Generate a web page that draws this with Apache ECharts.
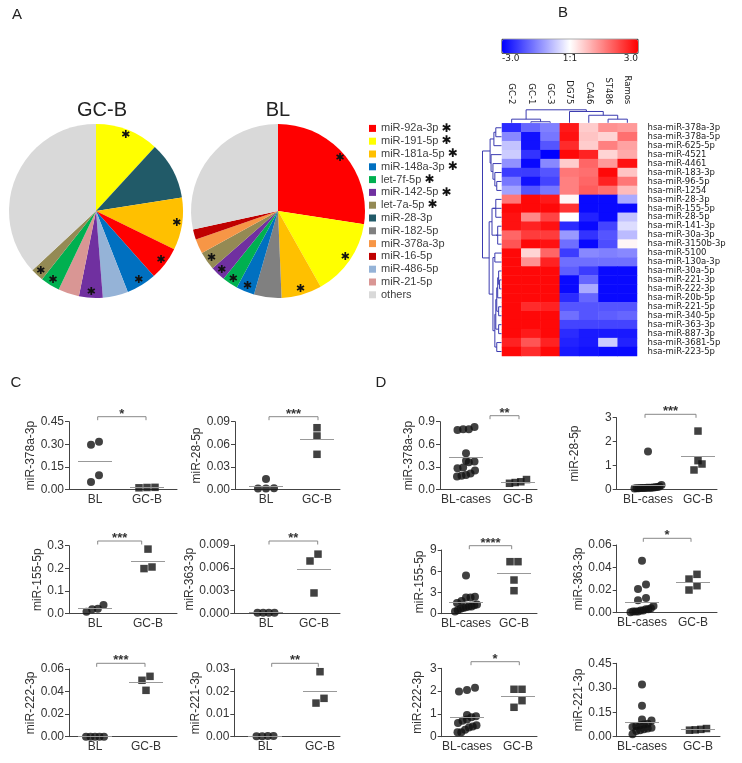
<!DOCTYPE html>
<html><head><meta charset="utf-8">
<script src="https://cdn.jsdelivr.net/npm/echarts@6/dist/echarts.min.js"></script>
<style>html,body{margin:0;padding:0;background:#fff}#c{width:742px;height:763px}</style>
</head><body><div id="c"></div>
<script>
// ---------------- Panel A: pie data ----------------
const gcbNames  = ['miR-191-5p','miR-28-3p','miR-181a-5p','miR-92a-3p','miR-148a-3p','miR-486-5p','miR-142-5p','miR-21-5p','let-7f-5p','let-7a-5p','others'];
const gcbValues = [11.8,10.7,9.7,6.2,5.6,4.7,4.4,3.9,3.6,2.4,36.9];
const blNames   = ['miR-92a-3p','miR-191-5p','miR-181a-5p','miR-182-5p','miR-148a-3p','let-7f-5p','miR-142-5p','let-7a-5p','miR-378a-3p','miR-16-5p','others'];
const blValues  = [27.4,14.4,7.5,5.1,3.4,2.9,2.8,3.4,2.7,1.9,28.4];
const legendNames = ['miR-92a-3p','miR-191-5p','miR-181a-5p','miR-148a-3p','let-7f-5p','miR-142-5p','let-7a-5p','miR-28-3p','miR-182-5p','miR-378a-3p','miR-16-5p','miR-486-5p','miR-21-5p','others'];
const starredNames = ['miR-92a-3p','miR-191-5p','miR-181a-5p','miR-148a-3p','let-7f-5p','miR-142-5p','let-7a-5p'];
const sliceColors = {
  'miR-92a-3p':'#ff0000','miR-191-5p':'#ffff00','miR-181a-5p':'#ffc000','miR-148a-3p':'#0070c0',
  'let-7f-5p':'#00b050','miR-142-5p':'#7030a0','let-7a-5p':'#948a54','miR-28-3p':'#215a68',
  'miR-182-5p':'#808080','miR-378a-3p':'#f79646','miR-16-5p':'#c00000','miR-486-5p':'#95b3d7',
  'miR-21-5p':'#d99694','others':'#d9d9d9'
};

// ---------------- Panel B: heatmap data ----------------
const colNames = ['GC-2','GC-1','GC-3','DG75','CA46','ST486','Ramos'];
const rowNames = ['hsa-miR-378a-3p','hsa-miR-378a-5p','hsa-miR-625-5p','hsa-miR-4521','hsa-miR-4461','hsa-miR-183-3p','hsa-miR-96-5p','hsa-miR-1254','hsa-miR-28-3p','hsa-miR-155-5p','hsa-miR-28-5p','hsa-miR-141-3p','hsa-miR-30a-3p','hsa-miR-3150b-3p','hsa-miR-5100','hsa-miR-130a-3p','hsa-miR-30a-5p','hsa-miR-221-3p','hsa-miR-222-3p','hsa-miR-20b-5p','hsa-miR-221-5p','hsa-miR-340-5p','hsa-miR-363-3p','hsa-miR-887-3p','hsa-miR-3681-5p','hsa-miR-223-5p'];
const hmValues = [
  [-2.5,-1.8,-1.5, 2.7, 0.6, 1.3, 1.2],
  [-1.4,-2.8,-1.6, 2.8, 0.7, 0.5, 1.7],
  [-0.7,-2.8,-2.0, 2.5, 0.6, 1.5, 1.1],
  [-0.6,-2.4,-3.0, 2.9, 2.6, 0.5, 1.0],
  [-1.3,-2.9,-1.4, 0.6, 1.8, 1.2, 2.8],
  [-2.3,-2.3,-2.0, 1.6, 1.7, 2.9, 0.7],
  [-1.6,-2.8,-2.2, 1.5, 1.8, 2.6, 1.6],
  [-1.1,-2.0,-1.6, 1.5, 1.9, 1.7, 0.8],
  [ 1.6, 2.9, 2.7, 0.1,-2.9,-2.9,-1.0],
  [ 2.9, 2.9, 2.9, 2.4,-2.9,-2.9,-2.9],
  [ 2.8, 1.4, 2.2, 0.0,-2.6,-2.9,-0.7],
  [ 2.8, 2.6, 2.8,-2.5,-2.9,-2.2,-0.4],
  [ 1.8, 2.3, 2.3,-1.2,-2.4,-2.0,-0.8],
  [ 2.0, 2.9, 2.8,-1.7,-2.9,-2.1, 0.1],
  [ 2.9, 0.5, 1.8,-2.3,-1.4,-1.5,-1.4],
  [ 2.9, 1.3, 2.6,-1.7,-1.7,-1.7,-1.7],
  [ 2.9, 2.9, 2.9,-1.9,-2.3,-2.9,-2.9],
  [ 2.9, 2.9, 2.9,-2.9,-1.8,-2.9,-2.9],
  [ 2.9, 2.9, 2.9,-2.9,-1.0,-2.9,-2.9],
  [ 2.9, 2.9, 2.9,-2.5,-1.8,-2.9,-2.9],
  [ 2.9, 2.5, 2.6,-2.0,-2.0,-2.0,-2.0],
  [ 2.9, 2.9, 2.9,-1.7,-2.0,-1.9,-1.8],
  [ 2.9, 2.9, 2.9,-2.2,-2.2,-2.2,-2.2],
  [ 2.9, 2.7, 2.9,-2.5,-2.7,-2.7,-2.7],
  [ 2.6, 2.0, 2.6,-2.6,-2.7,-0.6,-2.6],
  [ 2.9, 2.5, 2.9,-2.7,-2.8,-2.9,-2.9]
];
const colorbarLabels = ['-3.0','1:1','3.0'];
// dendrogram linkages: [childA, childB, relative height]; ids >= n are earlier merges
const colLinkage = [[1,2,0.08],[0,7,0.28],[5,6,0.28],[4,9,0.58],[3,10,0.87],[8,11,1.0]];
const rowLinkage = [
  [0,1,0.3],[26,2,0.4],[6,7,0.25],[5,28,0.35],[4,29,0.45],[3,30,0.55],[27,31,0.6],
  [8,10,0.3],[9,33,0.45],[11,13,0.2],[12,35,0.3],[34,36,0.5],[14,15,0.35],[17,18,0.1],
  [16,39,0.15],[19,40,0.2],[20,21,0.15],[41,42,0.25],[22,23,0.15],[43,44,0.3],[24,25,0.25],
  [45,46,0.35],[38,47,0.45],[37,48,0.65],[32,49,1.0]
];

// ---------------- Panels C / D: scatter data ----------------
const catsC = ['BL','GC-B'];
const catsD = ['BL-cases','GC-B'];
const c378a_BL = [0.317,0.297,0.049,0.093];          const c378a_GCB = [0.012,0.010,0.013];
const c28_BL   = [0.0137,0.0012,0.0010,0.0015];      const c28_GCB   = [0.082,0.071,0.0466];
const c155_BL  = [0.022,0.009,0.038,0.020];          const c155_GCB  = [0.285,0.199,0.206];
const c363_BL  = [0.0001,0.0001,0.0001,0.0001];      const c363_GCB  = [0.0078,0.0069,0.0027];
const c222_BL  = [0,0,0,0,0];                        const c222_GCB  = [0.0535,0.050,0.0411];
const c221_BL  = [0.0003,0.0002,0.0003,0.0002];      const c221_GCB  = [0.0288,0.0149,0.0170];
const d378a_BL = [0.80,0.79,0.80,0.83,0.48,0.38,0.36,0.37,0.29,0.28,0.25,0.21,0.19,0.17,0.18]; const d378a_GCB = [0.08,0.09,0.13,0.10];
const d28_BL   = [1.58,0.05,0.06,0.04,0.08,0.10,0.18,0.12,0.07,0.05,0.03,0.06,0.04,0.09,0.05]; const d28_GCB = [2.44,1.20,1.06,0.81];
const d155_BL  = [5.4,2.4,2.3,2.3,1.8,1.5,1.3,1.2,1.0,1.0,0.9,0.8,0.7,0.5,0.3];                const d155_GCB = [7.35,7.35,4.76,3.25];
const d363_BL  = [0.046,0.025,0.021,0.013,0.011,0.006,0.004,0.003,0.002,0.001,0.001,0.0005,0.001,0.002,0.003]; const d363_GCB = [0.034,0.0298,0.0239,0.0201];
const d222_BL  = [2.15,2.05,1.98,0.95,0.90,0.85,0.75,0.70,0.60,0.50,0.45,0.40,0.30,0.20,0.20];  const d222_GCB = [2.08,2.08,1.58,1.29];
const d221_BL  = [0.32,0.19,0.105,0.10,0.08,0.075,0.07,0.065,0.06,0.055,0.05,0.045,0.04,0.035,0.015]; const d221_GCB = [0.045,0.040,0.050,0.042];
const ticksC1 = ['0.00','0.15','0.30','0.45'];
const ticksC2 = ['0.00','0.03','0.06','0.09'];
const ticksC3 = ['0.0','0.1','0.2','0.3'];
const ticksC4 = ['0.000','0.003','0.006','0.009'];
const ticksC5 = ['0.00','0.02','0.04','0.06'];
const ticksC6 = ['0.00','0.01','0.02','0.03'];
const ticksD1 = ['0.0','0.3','0.6','0.9'];
const ticksD2 = ['0','1','2','3'];
const ticksD3 = ['0','3','6','9'];
const ticksD4 = ['0.00','0.02','0.04','0.06'];
const ticksD5 = ['0','1','2','3'];
const ticksD6 = ['0.00','0.15','0.30','0.45'];

const plots = [
  {name:'miR-378a-3p', cats:catsC, a:c378a_BL, b:c378a_GCB, ticks:ticksC1, sig:'*'},
  {name:'miR-28-5p',   cats:catsC, a:c28_BL,   b:c28_GCB,   ticks:ticksC2, sig:'***'},
  {name:'miR-155-5p',  cats:catsC, a:c155_BL,  b:c155_GCB,  ticks:ticksC3, sig:'***'},
  {name:'miR-363-3p',  cats:catsC, a:c363_BL,  b:c363_GCB,  ticks:ticksC4, sig:'**'},
  {name:'miR-222-3p',  cats:catsC, a:c222_BL,  b:c222_GCB,  ticks:ticksC5, sig:'***'},
  {name:'miR-221-3p',  cats:catsC, a:c221_BL,  b:c221_GCB,  ticks:ticksC6, sig:'**'},
  {name:'miR-378a-3p', cats:catsD, a:d378a_BL, b:d378a_GCB, ticks:ticksD1, sig:'**'},
  {name:'miR-28-5p',   cats:catsD, a:d28_BL,   b:d28_GCB,   ticks:ticksD2, sig:'***'},
  {name:'miR-155-5p',  cats:catsD, a:d155_BL,  b:d155_GCB,  ticks:ticksD3, sig:'****'},
  {name:'miR-363-3p',  cats:catsD, a:d363_BL,  b:d363_GCB,  ticks:ticksD4, sig:'*'},
  {name:'miR-222-3p',  cats:catsD, a:d222_BL,  b:d222_GCB,  ticks:ticksD5, sig:'*'},
  {name:'miR-221-3p',  cats:catsD, a:d221_BL,  b:d221_GCB,  ticks:ticksD6, sig:''}
];

// ---------------- layout (pixels) ----------------
const layouts = [
  {left:69,   right:177, top:421.7, bottom:489.3, c1:95,  c2:147, gap:18, br:[97.7,146],  brY:416.7},
  {left:235,  right:340, top:421.7, bottom:489.3, c1:266, c2:317, gap:26, br:[269,318],   brY:416.7},
  {left:69,   right:177, top:545.7, bottom:613.7, c1:95,  c2:148, gap:20, br:[97.7,141.7],brY:541},
  {left:234.3,right:340, top:545,   bottom:613.5, c1:266, c2:314, gap:24, br:[269,317.7], brY:541},
  {left:69,   right:177, top:669,   bottom:736.7, c1:95,  c2:146, gap:20, br:[96.7,145],  brY:663.3},
  {left:234.3,right:340, top:669,   bottom:736.7, c1:265, c2:320, gap:23, br:[271.7,318.3],brY:663.3},
  {left:440,  right:537, top:421.7, bottom:489.3, c1:466, c2:518, gap:20, br:[490,519],   brY:415.7},
  {left:616.7,right:717, top:417.7, bottom:489.3, c1:648, c2:698, gap:36, br:[645,696],   brY:414.3},
  {left:441.7,right:537, top:550,   bottom:613.7, c1:466, c2:514, gap:16, br:[469.3,511.7],brY:545.7},
  {left:616.7,right:717, top:545,   bottom:612.7, c1:642, c2:693, gap:26, br:[643.3,691], brY:538.3},
  {left:441.7,right:537, top:668.3, bottom:736.7, c1:467, c2:518, gap:18, br:[471,519.3], brY:661.7},
  {left:616.7,right:720, top:663.3, bottom:736.7, c1:642, c2:698, gap:30, br:null, brY:0}
];

const FONT = 'Liberation Sans, Arial, sans-serif';
const HMFONT = 'DejaVu Sans, sans-serif';
const MARK = 8;

// beeswarm-like horizontal spreading (pixel units on x)
function swarm(values, ymax, hPx, center) {
  const pxPerY = hPx / ymax;
  const order = values.map((v, i) => i).sort((p, q) => values[p] - values[q]);
  const rows = []; let cur = []; let start = 0;
  order.forEach(i => {
    if (cur.length && (values[i] - start) * pxPerY >= MARK * 0.9) { rows.push(cur); cur = []; }
    if (!cur.length) start = values[i];
    cur.push(i);
  });
  if (cur.length) rows.push(cur);
  const xs = [];
  rows.forEach(r => {
    const n = r.length;
    const span = n <= 3 ? (n - 1) * MARK : Math.min(28, 17 + (n - 4));
    const step = n > 1 ? span / (n - 1) : 0;
    r.forEach((i, k) => { xs[i] = center + (k - (n - 1) / 2) * step; });
  });
  return values.map((v, i) => [xs[i], v]);
}
const mean = arr => arr.reduce((s, v) => s + v, 0) / arr.length;

const grids = [], xAxes = [], yAxes = [], series = [];

// ---------- Panel A pies ----------
const starSet = new Set(starredNames);
function pieData(names, values, transparent) {
  return names.map((n, i) => ({name: n, value: values[i],
    itemStyle: {color: transparent ? 'rgba(0,0,0,0)' : sliceColors[n]}}));
}
[[gcbNames, gcbValues, [96, 211]], [blNames, blValues, [278, 211]]].forEach(([names, values, c]) => {
  series.push({type: 'pie', center: c, radius: 87, data: pieData(names, values, false),
    label: {show: false}, labelLine: {show: false}, silent: true, emphasis: {disabled: true},
    itemStyle: {borderWidth: 0}});
  series.push({type: 'pie', center: c, radius: [70, 87], data: pieData(names, values, true),
    label: {show: true, position: 'inside', formatter: p => starSet.has(p.name) ? '✱' : '',
      fontSize: 11, color: '#111', fontFamily: 'DejaVu Sans'},
    labelLine: {show: false}, silent: true, emphasis: {disabled: true}, itemStyle: {borderWidth: 0}});
});

// ---------- Panel B heatmap ----------
grids.push({left: 502, top: 123.3, width: 135, height: 232.7, containLabel: false, outerBoundsMode: 'none'});
xAxes.push({type: 'category', gridIndex: 0, data: colNames, position: 'top',
  axisLine: {show: false}, axisTick: {show: false}, splitLine: {show: false},
  axisLabel: {rotate: 90, margin: 19, fontSize: 8.5, color: '#222', interval: 0, fontFamily: HMFONT}});
yAxes.push({type: 'category', gridIndex: 0, data: rowNames, inverse: true, position: 'right',
  axisLine: {show: false}, axisTick: {show: false}, splitLine: {show: false},
  axisLabel: {margin: 10.5, fontSize: 8.5, color: '#222', interval: 0, fontFamily: HMFONT}});
const hmData = [];
hmValues.forEach((row, r) => row.forEach((v, c) => hmData.push([c, r, v])));
const heatIndex = series.length;
series.push({type: 'heatmap', xAxisIndex: 0, yAxisIndex: 0, data: hmData, silent: true,
  emphasis: {disabled: true}, itemStyle: {borderWidth: 0}});

function dendro(linkage, n, orient) {
  const pos = [], hgt = [];
  for (let i = 0; i < n; i++) { pos[i] = i; hgt[i] = 0; }
  linkage.forEach((m, k) => { pos[n + k] = (pos[m[0]] + pos[m[1]]) / 2; hgt[n + k] = m[2]; });
  return {
    type: 'custom', xAxisIndex: 0, yAxisIndex: 0, silent: true, clip: false,
    data: linkage.map((m, k) => [0, 0, k]),
    renderItem: (params, api) => {
      const m = linkage[api.value(2)];
      const o = api.coord([0, 0]);
      const dx = api.coord([1, 0])[0] - o[0];
      const dy = api.coord([0, 1])[1] - o[1];
      let pts;
      if (orient === 'col') {
        const base = o[1] - dy / 2 - 0.5;
        const X = p => o[0] + p * dx, Y = h => base - h * 13;
        pts = [[X(pos[m[0]]), Y(hgt[m[0]])], [X(pos[m[0]]), Y(m[2])], [X(pos[m[1]]), Y(m[2])], [X(pos[m[1]]), Y(hgt[m[1]])]];
      } else {
        const base = o[0] - dx / 2 - 0.5;
        const Yp = p => o[1] + p * dy, Xh = h => base - h * 19;
        pts = [[Xh(hgt[m[0]]), Yp(pos[m[0]])], [Xh(m[2]), Yp(pos[m[0]])], [Xh(m[2]), Yp(pos[m[1]])], [Xh(hgt[m[1]]), Yp(pos[m[1]])]];
      }
      return {type: 'polyline', shape: {points: pts}, style: {stroke: '#3b3bb0', lineWidth: 1, fill: null}};
    }
  };
}
series.push(dendro(colLinkage, colNames.length, 'col'));
series.push(dendro(rowLinkage, rowNames.length, 'row'));

// ---------- Panels C / D ----------
plots.forEach((p, i) => {
  const L = layouts[i];
  const gi = i + 1;
  const W = L.right - L.left, H = L.bottom - L.top;
  const ymax = parseFloat(p.ticks[p.ticks.length - 1]);
  const step = ymax / (p.ticks.length - 1);
  const p1 = L.c1 - L.left, p2 = L.c2 - L.left;
  grids.push({left: L.left, top: L.top, width: W, height: H, containLabel: false, outerBoundsMode: 'none'});
  xAxes.push({type: 'value', gridIndex: gi, min: 0, max: W,
    axisLine: {show: true, onZero: false, lineStyle: {color: '#444', width: 1}},
    axisTick: {show: false}, splitLine: {show: false},
    axisLabel: {customValues: [p1, p2], fontSize: 12, color: '#333', margin: 4, fontFamily: FONT,
      formatter: v => Math.abs(v - p1) < 0.5 ? p.cats[0] : (Math.abs(v - p2) < 0.5 ? p.cats[1] : '')}});
  yAxes.push({type: 'value', gridIndex: gi, min: 0, max: ymax, interval: step,
    name: p.name, nameLocation: 'middle', nameGap: L.gap,
    nameTextStyle: {fontSize: 12, color: '#333', fontFamily: FONT},
    axisLine: {show: true, lineStyle: {color: '#444', width: 1}},
    axisTick: {show: true, length: 4, inside: false, lineStyle: {color: '#444'}},
    splitLine: {show: false},
    axisLabel: {fontSize: 12, color: '#333', margin: 5, fontFamily: FONT,
      formatter: v => p.ticks[Math.round(v / step)]}});
  const ml = (c, arr) => ({silent: true, symbol: ['none', 'none'], label: {show: false},
    lineStyle: {color: '#999', width: 1, type: 'solid'}, emphasis: {disabled: true},
    data: [[{coord: [c - 17, mean(arr)]}, {coord: [c + 17, mean(arr)]}]]});
  series.push({type: 'scatter', xAxisIndex: gi, yAxisIndex: gi, silent: true,
    data: swarm(p.a, ymax, H, p1), symbol: 'circle', symbolSize: MARK,
    itemStyle: {color: '#111'}, markLine: ml(p1, p.a)});
  series.push({type: 'scatter', xAxisIndex: gi, yAxisIndex: gi, silent: true,
    data: swarm(p.b, ymax, H, p2), symbol: 'rect', symbolSize: 7.5,
    itemStyle: {color: '#111'}, markLine: ml(p2, p.b)});
  if (L.br && p.sig) {
    const off = L.top - L.brY;
    series.push({type: 'custom', xAxisIndex: gi, yAxisIndex: gi, silent: true, clip: false,
      data: [[L.br[0] - L.left, ymax, L.br[1] - L.left]],
      renderItem: (params, api) => {
        const a = api.coord([api.value(0), api.value(1)]);
        const b = api.coord([api.value(2), api.value(1)]);
        const y = a[1] - off;
        return {type: 'group', children: [
          {type: 'polyline', shape: {points: [[a[0], y + 3.5], [a[0], y], [b[0], y], [b[0], y + 3.5]]},
           style: {stroke: '#888', lineWidth: 1, fill: null}},
          {type: 'text', x: (a[0] + b[0]) / 2, y: y + 4,
           style: {text: p.sig, font: 'bold 13px Liberation Sans', fill: '#333',
                   align: 'center', verticalAlign: 'bottom', textAlign: 'center', textVerticalAlign: 'bottom'}}
        ]};
      }});
  }
});

const txt = (t, x, y, size, align, family) => ({type: 'text', x, y, silent: true,
  style: {text: t, font: size + 'px ' + (family || 'Liberation Sans'), fill: '#222', align: align || 'center',
    verticalAlign: 'middle', textAlign: align || 'center', textVerticalAlign: 'middle'}});

const option = {
  animation: false,
  backgroundColor: '#fff',
  textStyle: {fontFamily: FONT},
  grid: grids, xAxis: xAxes, yAxis: yAxes, series,
  legend: {orient: 'vertical', left: 369, top: 122, icon: 'rect', itemWidth: 7, itemHeight: 7,
    itemGap: 0, selectedMode: false, padding: 0,
    textStyle: {fontSize: 11, color: '#404040', lineHeight: 12.8, fontFamily: FONT,
      rich: {s: {fontSize: 12, color: '#111', lineHeight: 12.8, fontFamily: 'DejaVu Sans'}}},
    formatter: n => starSet.has(n) ? n + ' {s|✱}' : n,
    data: legendNames.map(n => ({name: n, itemStyle: {color: sliceColors[n]}}))},
  visualMap: {type: 'continuous', min: -3, max: 3, seriesIndex: heatIndex, orient: 'horizontal',
    left: 502, top: 39.3, itemWidth: 14, itemHeight: 136, calculable: false, padding: 0,
    hoverLink: false, realtime: false, showLabel: false,
    inRange: {color: ['#0000ff', '#ffffff', '#ff0000']}},
  graphic: [
    txt('A', 17, 15, 15), txt('B', 563, 13, 15), txt('C', 16, 383, 15), txt('D', 381, 383, 15),
    txt('GC-B', 102, 110, 20), txt('BL', 278, 110, 20),
    {type: 'rect', silent: true, shape: {x: 502, y: 39.3, width: 136, height: 14},
     style: {fill: null, stroke: '#333', lineWidth: 1}},
    txt(colorbarLabels[0], 502, 59, 9, 'left', 'DejaVu Sans'),
    txt(colorbarLabels[1], 570, 59, 9, 'center', 'DejaVu Sans'),
    txt(colorbarLabels[2], 638, 59, 9, 'right', 'DejaVu Sans')
  ]
};
const chart = echarts.init(document.getElementById('c'), null, {renderer: 'canvas'});
chart.setOption(option);
</script></body></html>
